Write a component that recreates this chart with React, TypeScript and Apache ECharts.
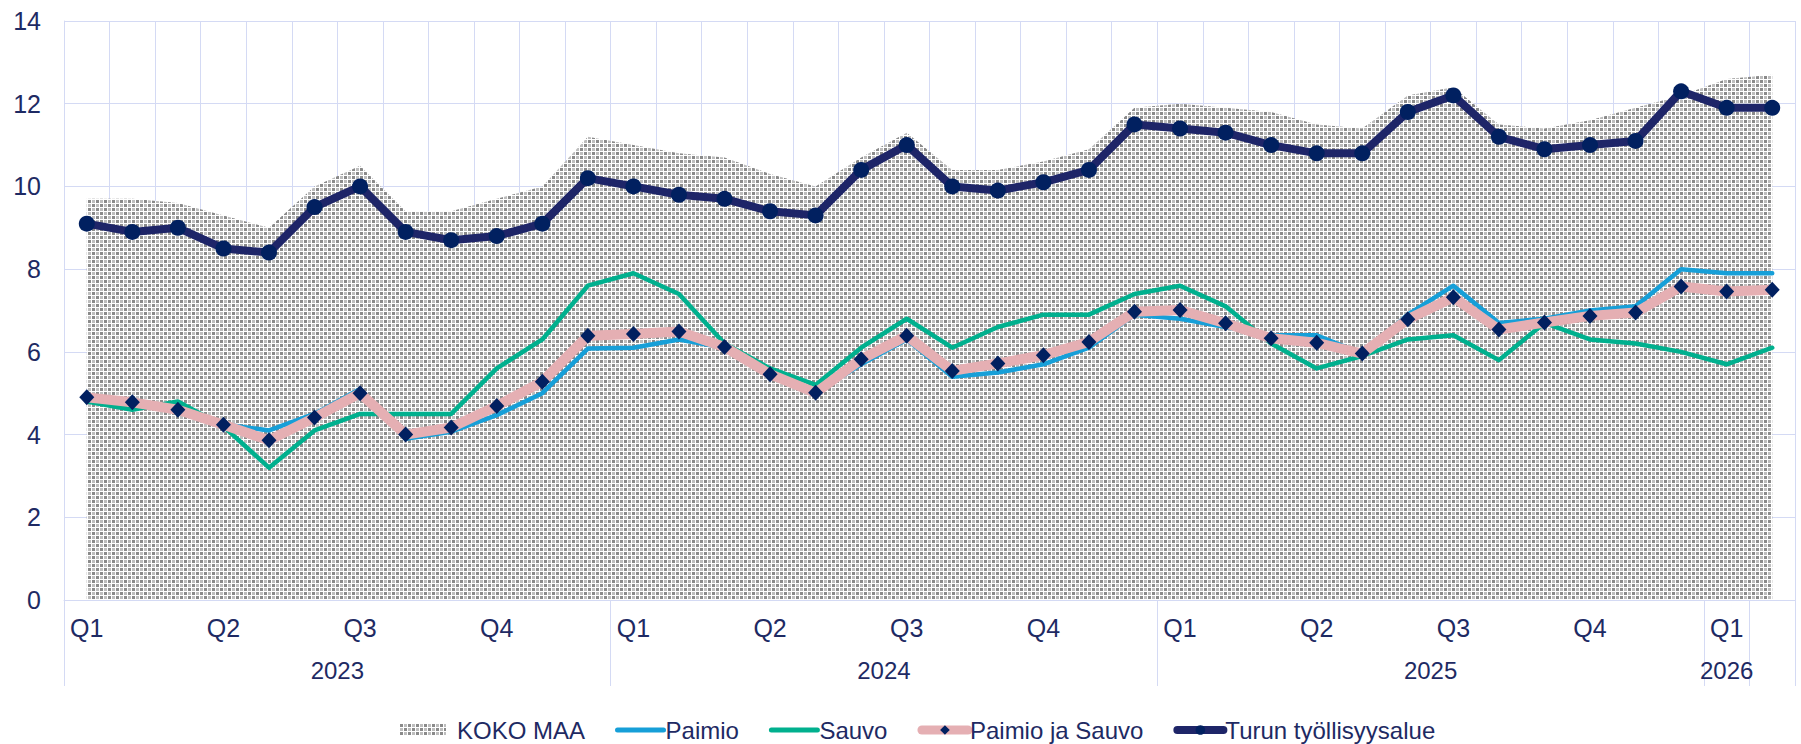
import React, { useEffect, useRef } from 'react';
import * as echarts from 'echarts';

// ---- data ----
const periods = [
  '2023-01', '2023-02', '2023-03', '2023-04', '2023-05', '2023-06', '2023-07', '2023-08', '2023-09', '2023-10', '2023-11', '2023-12',
  '2024-01', '2024-02', '2024-03', '2024-04', '2024-05', '2024-06', '2024-07', '2024-08', '2024-09', '2024-10', '2024-11', '2024-12',
  '2025-01', '2025-02', '2025-03', '2025-04', '2025-05', '2025-06', '2025-07', '2025-08', '2025-09', '2025-10', '2025-11', '2025-12',
  '2026-01', '2026-02',
];

const quarterLabels = [
  'Q1', '', '', 'Q2', '', '', 'Q3', '', '', 'Q4', '', '',
  'Q1', '', '', 'Q2', '', '', 'Q3', '', '', 'Q4', '', '',
  'Q1', '', '', 'Q2', '', '', 'Q3', '', '', 'Q4', '', '',
  'Q1', '',
];

const years = ['2023', '2024', '2025', '2026'];
const yearSpans = [12, 12, 12, 1];

const yTicks = { min: 0, max: 14, interval: 2 };

const kokoMaa = [9.7, 9.7, 9.6, 9.3, 9.0, 10.0, 10.5, 9.4, 9.4, 9.7, 10.0, 11.2, 11.0, 10.8, 10.7, 10.3, 10.0, 10.7, 11.3, 10.4, 10.4, 10.6, 10.9, 11.9, 12.0, 11.9, 11.8, 11.5, 11.4, 12.2, 12.4, 11.5, 11.4, 11.6, 11.9, 12.2, 12.6, 12.7];
const paimio = [4.9, 4.75, 4.6, 4.25, 4.1, 4.5, 5.1, 3.9, 4.07, 4.47, 5.0, 6.08, 6.1, 6.3, 6.1, 5.5, 5.0, 5.7, 6.3, 5.4, 5.5, 5.7, 6.1, 6.9, 6.8, 6.6, 6.4, 6.4, 5.95, 6.9, 7.6, 6.7, 6.8, 7.0, 7.1, 8.0, 7.9, 7.9];
const sauvo = [4.8, 4.6, 4.8, 4.2, 3.2, 4.1, 4.5, 4.5, 4.5, 5.6, 6.3, 7.6, 7.9, 7.4, 6.2, 5.6, 5.2, 6.1, 6.8, 6.1, 6.6, 6.9, 6.9, 7.4, 7.6, 7.1, 6.2, 5.6, 5.9, 6.3, 6.4, 5.8, 6.7, 6.3, 6.2, 6.0, 5.7, 6.1];
const paimioJaSauvo = [4.9, 4.78, 4.6, 4.24, 3.86, 4.41, 5.0, 4.0, 4.17, 4.69, 5.28, 6.39, 6.43, 6.49, 6.12, 5.46, 5.01, 5.82, 6.39, 5.54, 5.72, 5.92, 6.24, 6.97, 7.01, 6.69, 6.33, 6.22, 5.96, 6.79, 7.32, 6.54, 6.71, 6.87, 6.95, 7.58, 7.46, 7.5];
const turku = [9.1, 8.9, 9.0, 8.5, 8.4, 9.5, 10.0, 8.9, 8.7, 8.8, 9.1, 10.2, 10.0, 9.8, 9.7, 9.4, 9.3, 10.4, 11.0, 10.0, 9.9, 10.1, 10.4, 11.5, 11.4, 11.3, 11.0, 10.8, 10.8, 11.8, 12.2, 11.2, 10.9, 11.0, 11.1, 12.3, 11.9, 11.9];

const seriesNames = ['KOKO MAA', 'Paimio', 'Sauvo', 'Paimio ja Sauvo', 'Turun työllisyysalue'];

// ---- styles ----
const NAVY_TEXT = '#1E2A63';
const GRID_COLOR = '#D4DAF4';
const FONT = '"Liberation Sans", Arial, sans-serif';
const C_PAIMIO = '#169FD8';
const C_SAUVO = '#00B08E';
const C_PINK = '#E5AFB3';
const C_TURKU = '#1E2568';
const C_MARK = '#012060';

export default function App() {
  const ref = useRef<HTMLDivElement>(null);

  useEffect(() => {
    document.body.style.margin = '0';
    if (!ref.current) return;
    const chart = echarts.init(ref.current, null, { renderer: 'svg' });

    const T = 8;
    const cv = document.createElement('canvas');
    cv.width = T;
    cv.height = T;
    const ctx = cv.getContext('2d')!;
    ctx.fillStyle = '#ffffff';
    ctx.fillRect(0, 0, T, T);
    ctx.fillStyle = '#8a8a8a';
    ctx.fillRect(0, 0, 3, 3);
    ctx.fillRect(4, 4, 3, 3);
    ctx.fillStyle = '#bdbdbd';
    ctx.fillRect(4, 0, 3, 3);
    ctx.fillRect(0, 4, 3, 3);
    const pattern: any = { image: cv, repeat: 'repeat', imageWidth: T, imageHeight: T };

    // year group geometry derived from spans
    const boundaries: number[] = [0];
    const centers: number[] = [];
    yearSpans.forEach((s) => {
      const start = boundaries[boundaries.length - 1];
      centers.push(start + s / 2);
      boundaries.push(start + s);
    });
    if (boundaries[boundaries.length - 1] !== periods.length) boundaries.push(periods.length);

    const gridLayout = { left: 64, right: 6, top: 21, bottom: 144 };

    const option: any = {
      animation: false,
      textStyle: { fontFamily: FONT },
      grid: [
        { ...gridLayout, containLabel: false },
        { ...gridLayout, containLabel: false },
      ],
      legend: {
        top: 718,
        left: 400,
        padding: 0,
        itemWidth: 46,
        itemHeight: 12,
        itemGap: 30,
        textStyle: { fontSize: 24, color: NAVY_TEXT, fontFamily: FONT, padding: [0, 0, 0, -3] },
        data: [
          { name: seriesNames[0], icon: 'rect', itemStyle: { color: pattern }, textStyle: { padding: [0, 0, 0, 6] } },
          { name: seriesNames[1], itemStyle: { opacity: 0 }, lineStyle: { width: 5, color: C_PAIMIO, cap: 'round' } },
          { name: seriesNames[2], itemStyle: { opacity: 0 }, lineStyle: { width: 5, color: C_SAUVO, cap: 'round' } },
          { name: seriesNames[3], lineStyle: { width: 9, color: C_PINK, cap: 'round' } },
          { name: seriesNames[4], lineStyle: { width: 8, color: C_TURKU, cap: 'round' } },
        ],
      },
      xAxis: [
        {
          type: 'category',
          gridIndex: 0,
          data: periods,
          boundaryGap: true,
          position: 'bottom',
          axisLine: { show: true, lineStyle: { color: GRID_COLOR, width: 1 } },
          axisTick: { show: false },
          axisLabel: {
            interval: 0,
            margin: 15,
            fontSize: 25,
            color: NAVY_TEXT,
            formatter: (_v: string, i: number) => quarterLabels[i],
          },
          splitLine: { show: true, interval: 0, lineStyle: { color: GRID_COLOR, width: 1 } },
        },
        {
          type: 'value',
          gridIndex: 1,
          min: 0,
          max: periods.length,
          position: 'bottom',
          axisLine: { show: false },
          axisTick: {
            show: true,
            inside: false,
            length: 86,
            customValues: boundaries,
            lineStyle: { color: GRID_COLOR, width: 1 },
          },
          axisLabel: {
            show: true,
            customValues: centers,
            margin: 58,
            fontSize: 24,
            color: NAVY_TEXT,
            formatter: (v: number) => {
              const k = centers.findIndex((c) => Math.abs(c - v) < 1e-6);
              return k >= 0 ? years[k] : '';
            },
          },
          splitLine: { show: false },
        },
      ],
      yAxis: [
        {
          type: 'value',
          gridIndex: 0,
          min: yTicks.min,
          max: yTicks.max,
          interval: yTicks.interval,
          axisLine: { show: true, lineStyle: { color: GRID_COLOR, width: 1 } },
          axisTick: { show: false },
          axisLabel: { margin: 23, fontSize: 25, color: NAVY_TEXT },
          splitLine: { show: true, lineStyle: { color: GRID_COLOR, width: 1 } },
        },
        { type: 'value', gridIndex: 1, show: false, min: yTicks.min, max: yTicks.max },
      ],
      series: [
        {
          name: seriesNames[0],
          type: 'line',
          data: kokoMaa,
          symbol: 'none',
          lineStyle: { width: 0, color: '#9e9e9e' },
          itemStyle: { color: '#9e9e9e' },
          areaStyle: { color: pattern, opacity: 1 },
          z: 1,
        },
        {
          name: seriesNames[1],
          type: 'line',
          data: paimio,
          symbol: 'none',
          itemStyle: { color: C_PAIMIO },
          lineStyle: { width: 4.5, color: C_PAIMIO, join: 'round', cap: 'round' },
          z: 2,
        },
        {
          name: seriesNames[2],
          type: 'line',
          data: sauvo,
          symbol: 'none',
          itemStyle: { color: C_SAUVO },
          lineStyle: { width: 4.5, color: C_SAUVO, join: 'round', cap: 'round' },
          z: 3,
        },
        {
          name: seriesNames[3],
          type: 'line',
          data: paimioJaSauvo,
          symbol: 'diamond',
          symbolSize: [15, 16],
          showSymbol: true,
          itemStyle: { color: C_MARK },
          lineStyle: { width: 10, color: C_PINK, join: 'round', cap: 'round' },
          z: 4,
        },
        {
          name: seriesNames[4],
          type: 'line',
          data: turku,
          symbol: 'circle',
          symbolSize: 16,
          showSymbol: true,
          itemStyle: { color: C_MARK },
          lineStyle: { width: 8, color: C_TURKU, join: 'round', cap: 'round' },
          z: 5,
        },
      ],
    };

    chart.setOption(option);
    return () => chart.dispose();
  }, []);

  return <div ref={ref} style={{ width: 1801, height: 744 }} />;
}
